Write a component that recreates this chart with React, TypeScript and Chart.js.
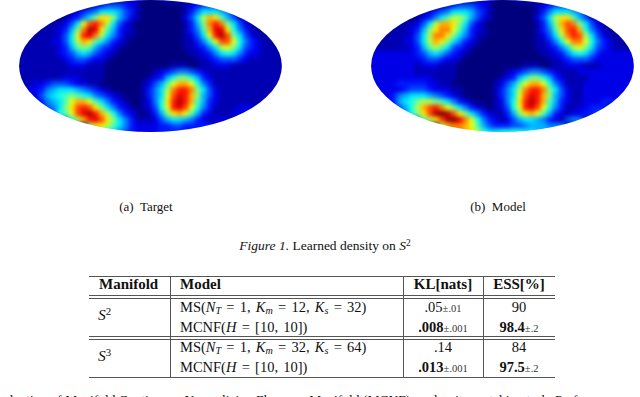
import React, { useEffect, useRef } from "react";
import Chart from "chart.js/auto";

// Density levels, one character per cell (0..k = 0..20 of 20)
const targetRows = [
  "000000000000000000 221 0000 122 00000000000000000",
  "0000000000000 23444321 0000000 12344432 100000000",
  "000000000 123457776431 0000000 1357776531 0000000",
  "00000000 12357add a6421 0000000 247bed96421 000000",
  "00000 111 247cghfb7421 00000000 136afhfa7421 00000",
  "0000 1112 36afjid96321 00000000 1359eiid85311 0000",
  "000 1111 247chifb75311 00000000 1247chjga74211 000",
  "00 11112 247bed975321 000000000 11358cggc853211 00",
  "0 111111 2369a964321 0000000000 112357bca7432111 0",
  "01111112 346764321 00000000000 01123578753221110",
  "11111111 23443221 000000000000 0011 2344432 111111",
  "11111111 1222111 0000000000 01110 01 1222111 111111",
  "111111111111111 00000000 1234554321 111111111111",
  "111111112221111 0000000 12368aa86321 11111111111",
  "1112 234443221 10000000 12469ceec85311 1111111111",
  "112 2356777654321 00000 1357bfhhfa7421 1111111111",
  "112 246789a98754321 000 1357cgihea6421 1111111111",
  "0111 35679ceec975321 00 1258dhjhe96321 1111111111",
  "00111 457adghgda75321 0 1248chigc85311 1122200000",
  "000112 489cgijheb85321 0 136adec96321 11222200000",
  "000000005 8behigda75311 1 2467765321 222 000000000",
  "000000000000 addb975322223344 33333 000000000000",
  "00000000000000 9875432222333333333 000000000000",
];
const modelRows = [
  "000000000000000000 221 0000 122 00000000000000000",
  "0000000000000 23444321 0000000 12344432 100000000",
  "000000000 123457776431 0000000 1357776531 0000000",
  "00000000 123579bb96421 0000000 247bdd96421 000000",
  "00000 111 247beeda7421 00000000 136aegfa7421 00000",
  "0000 1112 36adffc96321 00000000 1359dghe85311 0000",
  "000 1111 247bffda75311 00000000 1247bfhgb74211 000",
  "00 11112 247beda75321 000000000 11358cffc853211 00",
  "0 111111 2369b974321 0000000000 112357bca7432111 0",
  "02222222 346764321 00000000000 01123578753222221",
  "22222222 23443221 000000000000 0011 2344432 222222",
  "22222222 1222111 0000000000 01110 01 1222111 222222",
  "222222221111111 00000000 1234554321 112222222222",
  "222222222221111 0000000 12368aa86321 11122222222",
  "2222 233333221 10000000 12469ceec85311 1222222222",
  "22222 2344432 2211 00000 1357bfhhfa7421 1222222222",
  "222 2356777654321 00000 1357cgihea6421 1222222222",
  "0222 3678abba975321 000 1258dhjhe96321 1222333000",
  "00222 468beghfca75321 0 1248chigc85311 2233300000",
  "000222 58adgjkjgda75321 136adec96321 22334400000",
  "000000005 9bdgjkifc85321 2467765321 455 000000000",
  "000000000000 beffec964333445666555 000000000000",
  "00000000000000 ffedb87788887766666 000000000000",
];
const levelColors = [
  "#00007f", "#0000b2", "#0000e6", "#0019ff", "#004cff", "#0080ff", "#00b2ff",
  "#00e6ff", "#19ffe6", "#4cffb2", "#80ff80", "#b2ff4c", "#e6ff19", "#ffe600",
  "#ffb200", "#ff8000", "#ff4c00", "#ff1900", "#e60000", "#b20000", "#7f0000",
];

const subCaptions = ["(a)  Target", "(b)  Model"];
const headers = ["Manifold", "Model", "KL[nats]", "ESS[%]"];
const klValues = [".05", ".008", ".14", ".013"];
const klErrors = ["±.01", "±.001", "", "±.001"];
const essValues = ["90", "98.4", "84", "97.5"];
const essErrors = ["", "±.2", "", "±.2"];
const boldRows = [false, true, false, true];

const FONT = '"Liberation Serif", "Times New Roman", serif';
const COLS = 45;

function Density({ rows, left }: { rows: string[]; left: number }) {
  const ref = useRef<HTMLCanvasElement>(null);
  useEffect(() => {
    const points: { x: number; y: number }[] = [];
    const colors: string[] = [];
    rows.forEach((raw, r) => {
      const row = raw.replace(/ /g, "").padEnd(COLS, "0").slice(0, COLS);
      for (let c = 0; c < COLS; c++) {
        points.push({ x: c, y: r });
        colors.push(levelColors[parseInt(row[c], 36)] || levelColors[0]);
      }
    });
    const plugin = {
      id: "smoothEllipse",
      beforeDatasetsDraw(chart: any) {
        chart.ctx.save();
        chart.ctx.fillStyle = levelColors[0];
        chart.ctx.fillRect(0, 0, chart.width, chart.height);
        chart.ctx.restore();
      },
      afterDatasetsDraw(chart: any) {
        const ctx = chart.ctx as CanvasRenderingContext2D;
        const copy = document.createElement("canvas");
        copy.width = chart.canvas.width;
        copy.height = chart.canvas.height;
        copy.getContext("2d")!.drawImage(chart.canvas, 0, 0);
        const sx = chart.scales.x;
        const sy = chart.scales.y;
        const cx = sx.getPixelForValue(22.08);
        const cy = sy.getPixelForValue(11);
        const rx = sx.getPixelForValue(22.08 + 21.9) - cx;
        const ry = sy.getPixelForValue(22) - cy;
        ctx.save();
        ctx.clearRect(0, 0, chart.width, chart.height);
        ctx.beginPath();
        ctx.ellipse(cx, cy, rx, ry, 0, 0, Math.PI * 2);
        ctx.clip();
        ctx.filter = "blur(2.2px)";
        ctx.drawImage(copy, 0, 0);
        ctx.restore();
      },
    };
    const chart = new Chart(ref.current!, {
      type: "scatter",
      data: {
        datasets: [
          {
            data: points,
            pointStyle: "rect",
            pointRadius: 4.7,
            pointBorderWidth: 0,
            pointBackgroundColor: colors,
            showLine: false,
            clip: false,
          } as any,
        ],
      },
      options: {
        animation: false,
        responsive: false,
        events: [],
        layout: { padding: 0, autoPadding: false },
        plugins: { legend: { display: false }, tooltip: { enabled: false } },
        scales: {
          x: { type: "linear", display: false, min: -2, max: 46 },
          y: { type: "linear", display: false, min: -2, max: 24, reverse: true },
        },
      },
      plugins: [plugin],
    });
    return () => chart.destroy();
  }, [rows]);
  return (
    <canvas
      ref={ref}
      width={288}
      height={156}
      style={{ position: "absolute", left, top: -12, width: 288, height: 156, display: "block" }}
    />
  );
}

function T({
  x, y, size = 14.5, center, bold, italic, children, extra,
}: {
  x: number; y: number; size?: number; center?: boolean; bold?: boolean; italic?: boolean;
  children: React.ReactNode; extra?: React.CSSProperties;
}) {
  return (
    <div
      style={{
        position: "absolute",
        left: x,
        top: y - 0.8375 * size,
        fontFamily: FONT,
        fontSize: size,
        lineHeight: 1,
        whiteSpace: "pre",
        color: "#111",
        fontWeight: bold ? 700 : 400,
        fontStyle: italic ? "italic" : "normal",
        transform: center ? "translateX(-50%)" : undefined,
        ...extra,
      }}
    >
      {children}
    </div>
  );
}

const Sub = ({ c }: { c: React.ReactNode }) => (
  <span style={{ fontSize: "0.7em", position: "relative", top: "0.25em", lineHeight: 0 }}>{c}</span>
);
const Sup = ({ c }: { c: React.ReactNode }) => (
  <span style={{ fontSize: "0.7em", position: "relative", top: "-0.42em", lineHeight: 0 }}>{c}</span>
);

const Rule = ({ x, y, w, h, c = "#555" }: { x: number; y: number; w: number; h: number; c?: string }) => (
  <div style={{ position: "absolute", left: x, top: y, width: w, height: h, background: c }} />
);

const msModel = (km: string, ks: string) => (
  <span style={{ wordSpacing: "1.6px" }}>
    MS(<i>N</i><Sub c={<i>T</i>} /> = 1, <i>K</i><Sub c={<i>m</i>} /> = {km}, <i>K</i><Sub c={<i>s</i>} /> = {ks})
  </span>
);
const mcnfModel = (
  <span style={{ wordSpacing: "1.6px" }}>
    MCNF(<i>H</i> = [10, 10])
  </span>
);
const modelCells = [msModel("12", "32"), mcnfModel, msModel("32", "64"), mcnfModel];
const rowBaselines = [312, 332, 352, 372];

export default function App() {
  return (
    <div style={{ position: "fixed", left: 0, top: 0, width: 640, height: 397, overflow: "hidden", background: "#fff" }}>
      <Density rows={targetRows} left={6} />
      <Density rows={modelRows} left={358} />

      <T x={146} y={211} size={13} center>{subCaptions[0]}</T>
      <T x={498} y={211} size={13} center>{subCaptions[1]}</T>
      <T x={325} y={250} size={13.5} center>
        <i>Figure 1.</i> Learned density on <i>S</i><Sup c="2" />
      </T>

      <Rule x={89} y={275.5} w={466} h={1} />
      <Rule x={89} y={295} w={466} h={1} />
      <Rule x={89} y={298} w={466} h={1} />
      <Rule x={89} y={335.5} w={466} h={1} />
      <Rule x={89} y={338.5} w={466} h={1} />
      <Rule x={89} y={376.5} w={466} h={1} />
      <Rule x={170} y={276} w={1} h={101} />
      <Rule x={403} y={276} w={1} h={101} />
      <Rule x={482.5} y={276} w={1} h={101} />

      <T x={99} y={290} size={15} bold>{headers[0]}</T>
      <T x={180} y={290} size={15} bold>{headers[1]}</T>
      <T x={443} y={290} size={15} bold center>{headers[2]}</T>
      <T x={519} y={290} size={15} bold center>{headers[3]}</T>

      <T x={98} y={320} size={15.5}><i>S</i><Sup c="2" /></T>
      <T x={98} y={361} size={15.5}><i>S</i><Sup c="3" /></T>

      {rowBaselines.map((y, i) => (
        <React.Fragment key={i}>
          <T x={180} y={y} size={14.5}>{modelCells[i]}</T>
          <T x={443} y={y} size={14.5} center>
            <span style={{ fontWeight: boldRows[i] ? 700 : 400 }}>{klValues[i]}</span>
            <span style={{ fontSize: 10.5, color: "#333" }}>{klErrors[i]}</span>
          </T>
          <T x={519} y={y} size={14.5} center>
            <span style={{ fontWeight: boldRows[i] ? 700 : 400 }}>{essValues[i]}</span>
            <span style={{ fontSize: 10.5, color: "#333" }}>{essErrors[i]}</span>
          </T>
        </React.Fragment>
      ))}

      <T x={-3} y={404} size={13.5}>
        valuation of Manifold Continuous Normalizing Flows on Manifold (MCNF) on density matching task. Performance m
      </T>
    </div>
  );
}
